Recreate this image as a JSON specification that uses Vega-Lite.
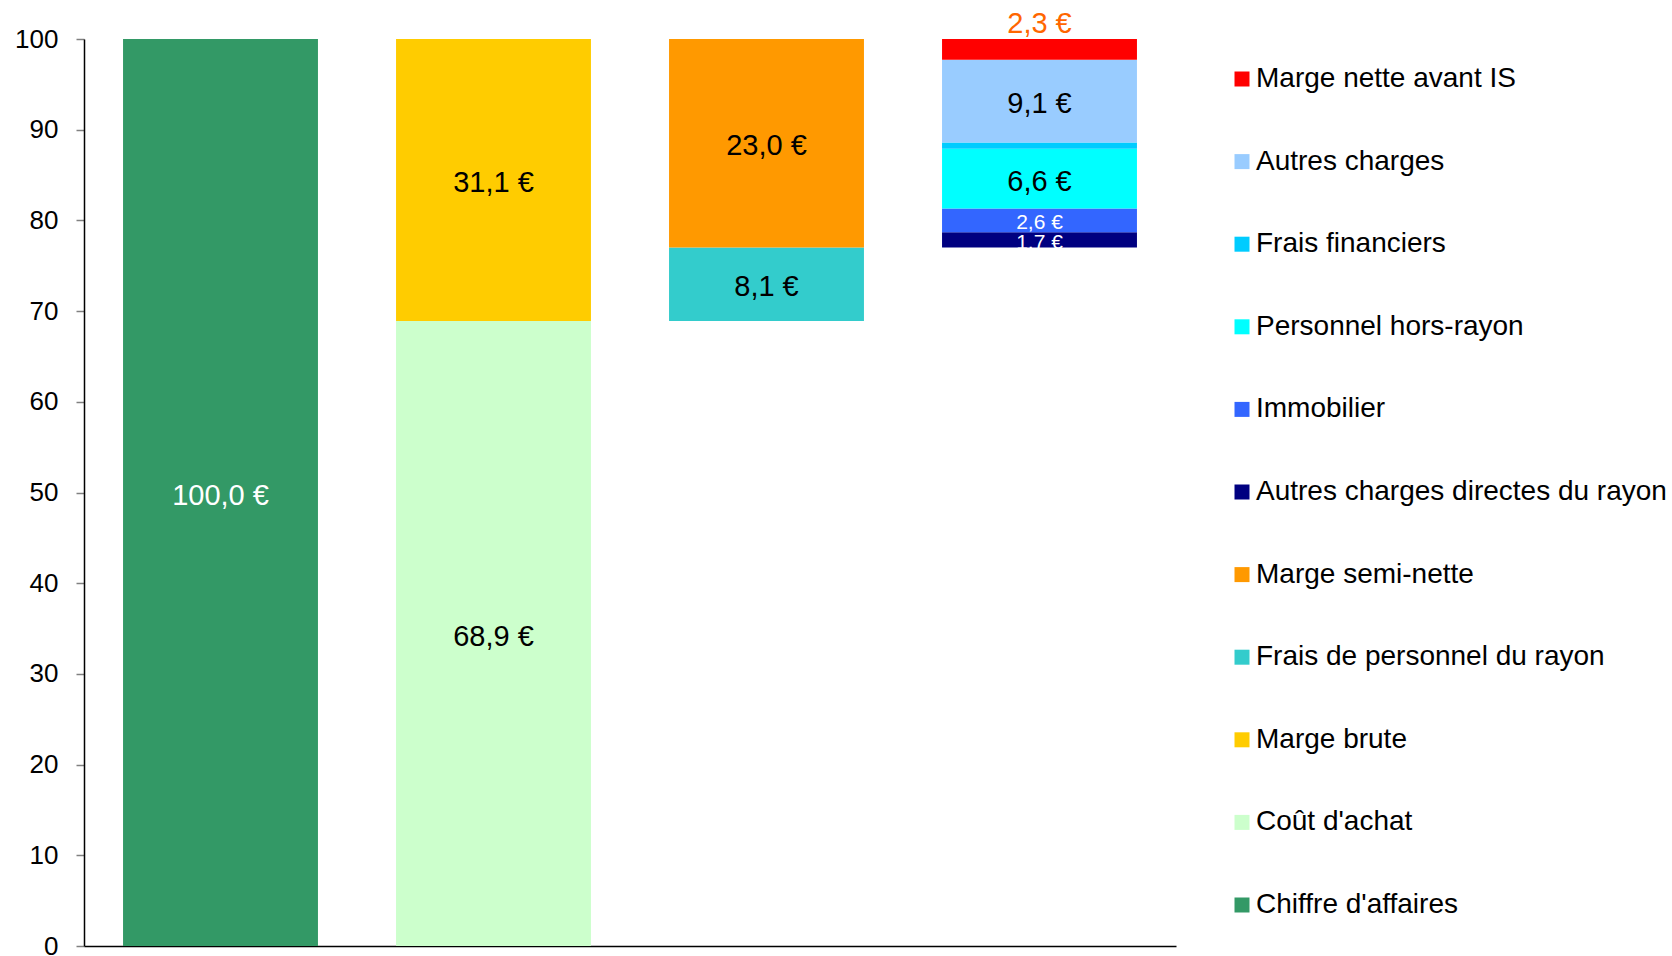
{
  "$schema": "https://vega.github.io/schema/vega-lite/v6.json",
  "width": 1092,
  "height": 907,
  "autosize": "none",
  "padding": {"left": 84, "top": 39, "right": 496, "bottom": 10},
  "config": {
    "view": {"stroke": null},
    "font": "Liberation Sans",
    "axis": {"grid": false}
  },
  "data": {
    "values": [
      {"cat": "1", "series": "Chiffre d'affaires", "start": 0, "end": 100, "label": "100,0 €"},
      {"cat": "2", "series": "Coût d'achat", "start": 0, "end": 68.9, "label": "68,9 €"},
      {"cat": "2", "series": "Marge brute", "start": 68.9, "end": 100, "label": "31,1 €"},
      {"cat": "3", "series": "Frais de personnel du rayon", "start": 68.9, "end": 77.0, "label": "8,1 €"},
      {"cat": "3", "series": "Marge semi-nette", "start": 77.0, "end": 100, "label": "23,0 €"},
      {"cat": "4", "series": "Autres charges directes du rayon", "start": 77.0, "end": 78.7, "label": "1,7 €"},
      {"cat": "4", "series": "Immobilier", "start": 78.7, "end": 81.3, "label": "2,6 €"},
      {"cat": "4", "series": "Personnel hors-rayon", "start": 81.3, "end": 87.9, "label": "6,6 €"},
      {"cat": "4", "series": "Frais financiers", "start": 87.9, "end": 88.6, "label": ""},
      {"cat": "4", "series": "Autres charges", "start": 88.6, "end": 97.7, "label": "9,1 €"},
      {"cat": "4", "series": "Marge nette avant IS", "start": 97.7, "end": 100, "label": "2,3 €"}
    ]
  },
  "encoding": {
    "x": {
      "field": "cat", "type": "nominal", "title": null,
      "scale": {"paddingInner": 0.286, "paddingOuter": 0.143},
      "axis": {"labels": false, "ticks": false, "domainColor": "#000000", "domainWidth": 1.5}
    }
  },
  "layer": [
    {
      "mark": {"type": "bar", "strokeWidth": 0},
      "encoding": {
        "y": {
          "field": "start", "type": "quantitative", "title": null,
          "scale": {"domain": [0, 100], "nice": false},
          "axis": {
            "values": [0, 10, 20, 30, 40, 50, 60, 70, 80, 90, 100],
            "labelFontSize": 26, "labelColor": "#000000", "labelPadding": 18,
            "tickColor": "#808080", "tickSize": 8, "tickWidth": 1.5,
            "domainColor": "#000000", "domainWidth": 1.5, "labelFlush": false
          }
        },
        "y2": {"field": "end"},
        "color": {
          "field": "series", "type": "nominal",
          "scale": {
            "domain": ["Marge nette avant IS", "Autres charges", "Frais financiers", "Personnel hors-rayon", "Immobilier", "Autres charges directes du rayon", "Marge semi-nette", "Frais de personnel du rayon", "Marge brute", "Coût d'achat", "Chiffre d'affaires"],
            "range": ["#FF0000", "#99CCFF", "#00CCFF", "#00FFFF", "#3366FF", "#000080", "#FF9900", "#33CCCC", "#FFCC00", "#CCFFCC", "#339966"]
          },
          "legend": {
            "title": null, "orient": "none", "legendX": 1144, "legendY": 26,
            "symbolType": "square", "symbolSize": 225, "symbolStrokeWidth": 0,
            "labelFontSize": 28, "labelColor": "#000000", "labelOffset": 0,
            "labelLimit": 600, "rowPadding": 54.6
          }
        }
      }
    },
    {
      "transform": [
        {"filter": "datum.series !== 'Frais financiers' && datum.series !== 'Marge nette avant IS'"},
        {"fold": ["start", "end"], "as": ["k", "v"]},
        {"aggregate": [{"op": "mean", "field": "v", "as": "mid"}], "groupby": ["cat", "series", "label"]}
      ],
      "mark": {"type": "text", "baseline": "middle", "align": "center", "dy": 3},
      "encoding": {
        "y": {"field": "mid", "type": "quantitative"},
        "text": {"field": "label"},
        "color": {
          "condition": {"test": "datum.series === 'Chiffre d\\'affaires' || datum.series === 'Immobilier' || datum.series === 'Autres charges directes du rayon'", "value": "#FFFFFF"},
          "value": "#000000"
        },
        "size": {
          "condition": {"test": "datum.series === 'Immobilier' || datum.series === 'Autres charges directes du rayon'", "value": 21},
          "value": 29
        }
      }
    },
    {
      "transform": [{"filter": "datum.series === 'Marge nette avant IS'"}],
      "mark": {"type": "text", "baseline": "middle", "align": "center", "dy": -15, "fontSize": 29, "color": "#FF6600"},
      "encoding": {
        "y": {"field": "end", "type": "quantitative"},
        "text": {"field": "label"}
      }
    }
  ]
}
